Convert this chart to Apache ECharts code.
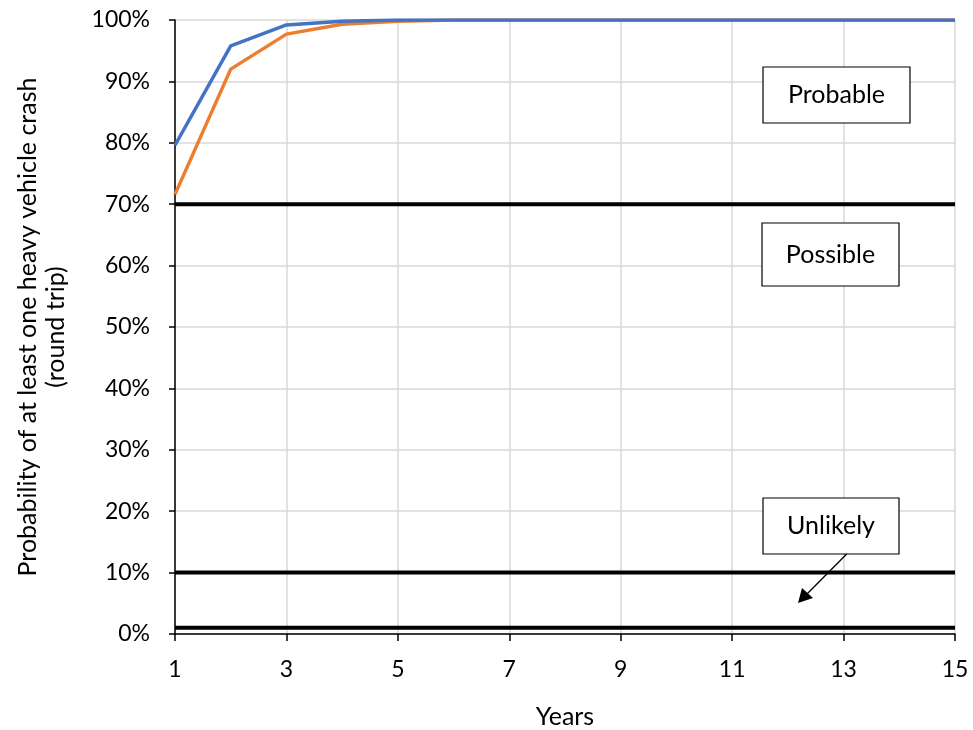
<!DOCTYPE html>
<html><head><meta charset="utf-8">
<script src="https://cdn.jsdelivr.net/npm/echarts@6/dist/echarts.min.js"></script>
<style>html,body{margin:0;padding:0;background:#fff}#c{width:973px;height:730px}</style>
</head><body><div id="c"></div>
<script>
const years = ['1','2','3','4','5','6','7','8','9','10','11','12','13','14','15'];
const seriesBlue = [0.796,0.958,0.992,0.998,1,1,1,1,1,1,1,1,1,1,1];
const seriesOrange = [0.716,0.920,0.977,0.993,0.998,1,1,1,1,1,1,1,1,1,1];
const probableLine = [0.7,0.7,0.7,0.7,0.7,0.7,0.7,0.7,0.7,0.7,0.7,0.7,0.7,0.7,0.7];
const unlikelyLine = [0.1,0.1,0.1,0.1,0.1,0.1,0.1,0.1,0.1,0.1,0.1,0.1,0.1,0.1,0.1];
const rareLine = [0.01,0.01,0.01,0.01,0.01,0.01,0.01,0.01,0.01,0.01,0.01,0.01,0.01,0.01,0.01];
const yTicks = ['0%','10%','20%','30%','40%','50%','60%','70%','80%','90%','100%'];
const labels = ['Probable','Possible','Unlikely'];

const font = 'Lato, "Open Sans", sans-serif';
const chart = echarts.init(document.getElementById('c'));
function lineSeries(data,color,w,z){
  return {type:'line',data:data,symbol:'none',lineStyle:{color:color,width:w},itemStyle:{color:color},z:z,animation:false,silent:true};
}
function box(x,y,w,h,text){
  return {type:'group',children:[
    {type:'rect',shape:{x:x,y:y,width:w,height:h},style:{fill:'#fff',stroke:'#000',lineWidth:1.2},z:10},
    {type:'text',style:{x:x+w/2,y:y+h/2,text:text,fill:'#000',font:'25px '+font,align:'center',verticalAlign:'middle'},z:11}
  ]};
}
chart.setOption({
  animation:false,
  grid:{left:175,right:18,top:20,bottom:96,containLabel:false,outerBoundsMode:'none'},
  xAxis:{type:'category',data:years,boundaryGap:false,
    name:'Years',nameLocation:'middle',nameGap:70,
    nameTextStyle:{fontFamily:font,fontSize:25,color:'#000'},
    axisLine:{lineStyle:{color:'#000',width:1.5}},
    axisTick:{show:true,interval:1,length:7,lineStyle:{color:'#000',width:1.5}},
    axisLabel:{interval:1,margin:24,fontFamily:font,fontSize:23,color:'#000'},
    splitLine:{show:true,interval:1,lineStyle:{color:'#d9d9d9',width:1.5}}
  },
  yAxis:{type:'value',min:0,max:1,interval:0.1,
    name:'Probability of at least one heavy vehicle crash\n(round trip)',
    nameLocation:'middle',nameGap:105,nameRotate:90,
    nameTextStyle:{fontFamily:font,fontSize:25,color:'#000',lineHeight:28},
    axisLine:{show:true,lineStyle:{color:'#000',width:1.5}},
    axisTick:{show:true,length:6,lineStyle:{color:'#000',width:1.5}},
    axisLabel:{margin:25,fontFamily:font,fontSize:23,color:'#000',
      formatter:function(v){return yTicks[Math.round(v*10)];}},
    splitLine:{show:true,lineStyle:{color:'#d9d9d9',width:1.5}}
  },
  series:[
    lineSeries(probableLine,'#000',4,3),
    lineSeries(unlikelyLine,'#000',4,3),
    lineSeries(rareLine,'#000',4,3),
    lineSeries(seriesOrange,'#ED7D31',3.5,4),
    lineSeries(seriesBlue,'#4472C4',3.5,5)
  ],
  graphic:[
    box(763,67,147,56,labels[0]),
    box(762,223,137,63,labels[1]),
    box(763,498,136,56,labels[2]),
    {type:'line',shape:{x1:846.7,y1:554,x2:806,y2:595},style:{stroke:'#000',lineWidth:1.3},z:10},
    {type:'polygon',shape:{points:[[798,603],[802,588],[813,598]]},style:{fill:'#000'},z:10}
  ]
});
</script></body></html>
